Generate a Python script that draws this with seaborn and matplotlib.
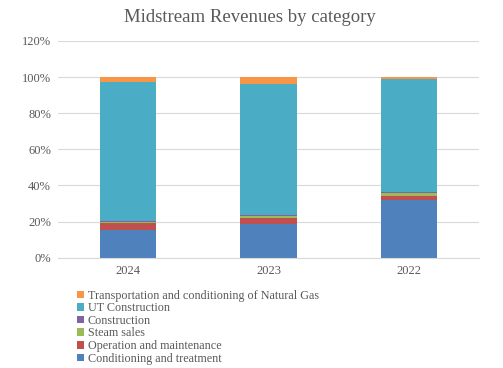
import matplotlib
matplotlib.use("Agg")
import matplotlib.pyplot as plt
from matplotlib.patches import Patch
from matplotlib.ticker import PercentFormatter, MultipleLocator
import seaborn as sns
import pandas as pd
import numpy as np

years = ["2024", "2023", "2022"]
categories = [
    "Conditioning and treatment",
    "Operation and maintenance",
    "Steam sales",
    "Construction",
    "UT Construction",
    "Transportation and conditioning of Natural Gas",
]
conditioning = [15.4, 18.5, 31.7]
operation = [3.7, 3.4, 2.2]
steam = [0.8, 1.1, 2.2]
construction = [0.2, 0.5, 0.1]
ut_construction = [77.1, 72.6, 62.7]
transportation = [2.8, 3.9, 1.1]
series = [conditioning, operation, steam, construction, ut_construction, transportation]
colors = ["#4F81BD", "#C0504D", "#9BBB59", "#8064A2", "#4BACC6", "#F79646"]

sns.set_theme(style="white")
plt.rcParams["font.family"] = ["Liberation Serif", "DejaVu Serif"]

fig = plt.figure(figsize=(5.03, 3.68), dpi=100)
ax = fig.add_axes([0.1153, 0.2997, 0.8370, 0.5889])

bottom = np.zeros(len(years))
for name, vals, col in zip(categories, series, colors):
    df = pd.DataFrame({"year": years, "value": vals})
    sns.barplot(data=df, x="year", y="value", order=years, color=col,
                width=0.4, bottom=bottom, ax=ax, saturation=1, linewidth=0,
                errorbar=None)
    bottom = bottom + np.array(vals)

ax.set_ylim(0, 120)
ax.set_xlim(-0.5, 2.5)
ax.yaxis.set_major_locator(MultipleLocator(20))
ax.yaxis.set_major_formatter(PercentFormatter(decimals=0))
ax.grid(axis="y", color="#D9D9D9", linewidth=0.8)
ax.set_axisbelow(True)
for s in ["top", "right", "left"]:
    ax.spines[s].set_visible(False)
ax.spines["bottom"].set_color("#D9D9D9")
ax.spines["bottom"].set_linewidth(0.8)
ax.set_xlabel("")
ax.set_ylabel("")
ax.tick_params(axis="both", length=0, labelsize=9, colors="#595959", pad=5)

fig.suptitle("Midstream Revenues by category", x=0.497, y=0.975,
             fontsize=13.5, color="#595959")

handles = [Patch(facecolor=c, edgecolor="none") for c in colors]
leg = fig.legend(handles[::-1], categories[::-1], loc="upper left",
                 bbox_to_anchor=(0.153, 0.213), frameon=False,
                 fontsize=8.7, labelcolor="#595959",
                 handlelength=0.6, handleheight=0.6, handletextpad=0.3,
                 labelspacing=0.05, borderpad=0, borderaxespad=0)

fig.savefig("out.png", dpi=100)
